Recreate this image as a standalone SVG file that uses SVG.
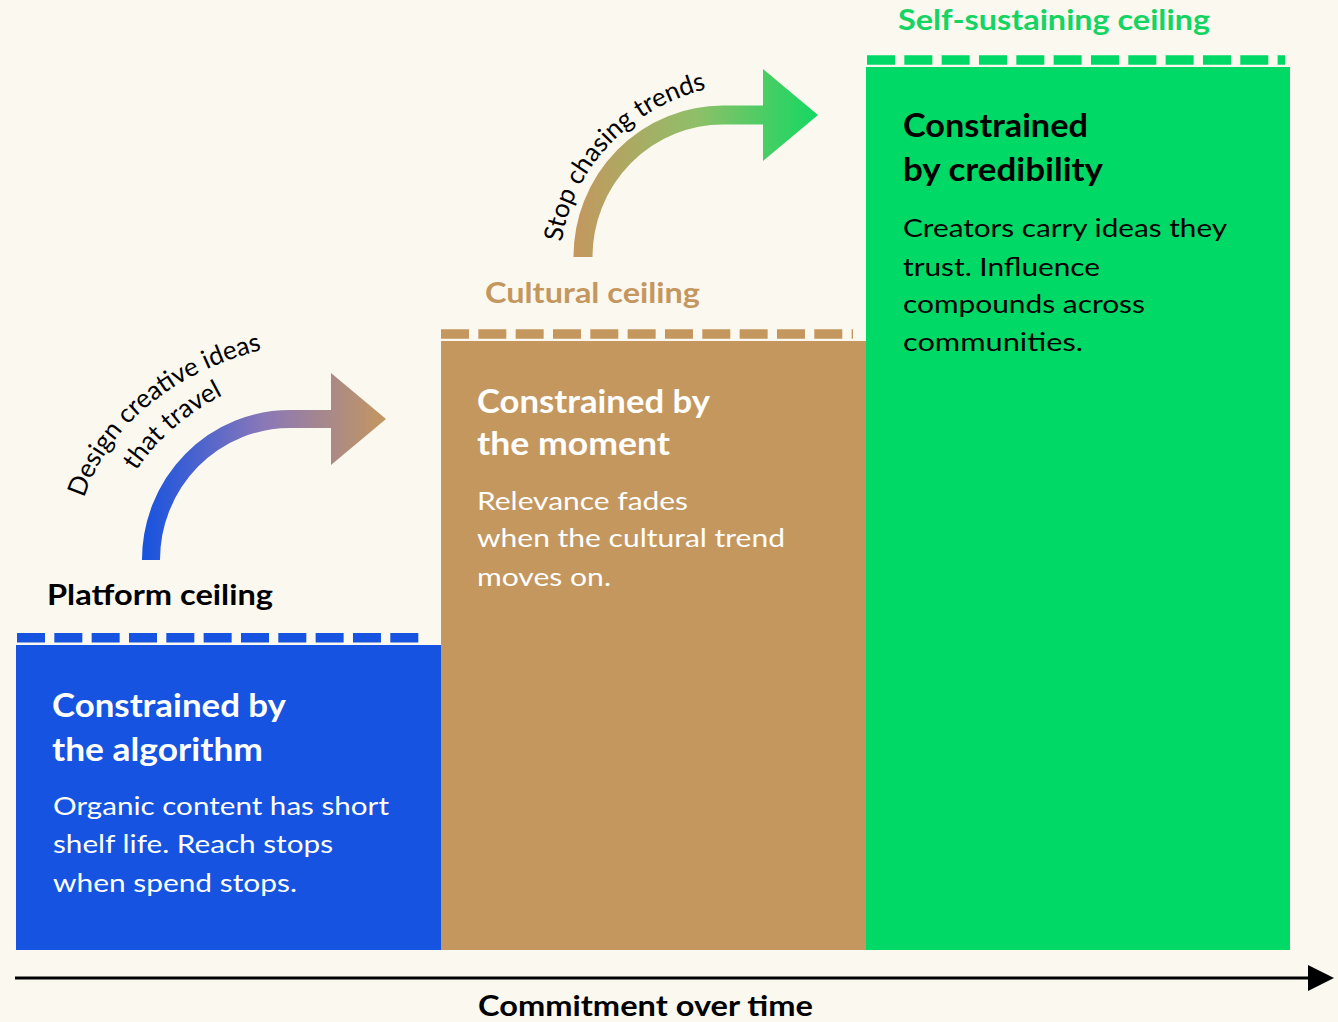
<svg xmlns="http://www.w3.org/2000/svg" width="1338" height="1022" viewBox="0 0 1338 1022">
  <style>
    .h { font-family: Lato, "Open Sans", "Liberation Sans", sans-serif; font-weight: 700; font-size: 33px; }
    .b { font-family: Lato, "Open Sans", "Liberation Sans", sans-serif; font-weight: 400; font-size: 25px; }
    .lbl { font-family: Lato, "Open Sans", "Liberation Sans", sans-serif; font-weight: 700; font-size: 28px; }
    .arc { font-family: Lato, "Open Sans", "Liberation Sans", sans-serif; font-weight: 400; font-size: 26px; fill: #000; }
    .w { fill: #ffffff; }
    .k { fill: #000000; }
    .dash { stroke-width: 9.5; stroke-dasharray: 28 9.33; fill: none; }
  </style>
  <defs>
    <linearGradient id="g1" gradientUnits="userSpaceOnUse" x1="142" y1="0" x2="386" y2="0">
      <stop offset="0" stop-color="#1652e0"/>
      <stop offset="0.5" stop-color="#8a78b8"/>
      <stop offset="1" stop-color="#c4975f"/>
    </linearGradient>
    <linearGradient id="g2" gradientUnits="userSpaceOnUse" x1="574" y1="0" x2="818" y2="0">
      <stop offset="0" stop-color="#c4975f"/>
      <stop offset="0.5" stop-color="#8fbf68"/>
      <stop offset="1" stop-color="#14d862"/>
    </linearGradient>
    <path id="p1" d="M84,498 C110,420 185,360 300,342"/>
    <path id="p2" d="M136,471 C160,434 200,402 252,382"/>
    <path id="p3" d="M562,242 C571,174 626,104 720,86"/>
  </defs>

  <rect x="0" y="0" width="1338" height="1022" fill="#fbf8ef"/>

  <g id="step-platform">
    <rect x="16" y="645" width="426" height="305" fill="#1553e0"/>
    <line class="dash" x1="17" y1="637.8" x2="419" y2="637.8" stroke="#1553e0"/>
    <text class="lbl k" x="47" y="605" textLength="226" lengthAdjust="spacingAndGlyphs">Platform ceiling</text>
    <text class="h w" x="52" y="717" textLength="234" lengthAdjust="spacingAndGlyphs">Constrained by</text>
    <text class="h w" x="52" y="761" textLength="211" lengthAdjust="spacingAndGlyphs">the algorithm</text>
    <text class="b w" x="53" y="815" textLength="336" lengthAdjust="spacingAndGlyphs">Organic content has short</text>
    <text class="b w" x="53" y="853" textLength="280" lengthAdjust="spacingAndGlyphs">shelf life. Reach stops</text>
    <text class="b w" x="53" y="892" textLength="244" lengthAdjust="spacingAndGlyphs">when spend stops.</text>
  </g>

  <g id="step-cultural">
    <rect x="441" y="341" width="425" height="609" fill="#c4975f"/>
    <line class="dash" x1="441" y1="334" x2="853" y2="334" stroke="#c4975f"/>
    <text class="lbl" x="485" y="303" fill="#c4975f" textLength="215" lengthAdjust="spacingAndGlyphs">Cultural ceiling</text>
    <text class="h w" x="477" y="413" textLength="233" lengthAdjust="spacingAndGlyphs">Constrained by</text>
    <text class="h w" x="477" y="455" textLength="193" lengthAdjust="spacingAndGlyphs">the moment</text>
    <text class="b w" x="477" y="510" textLength="211" lengthAdjust="spacingAndGlyphs">Relevance fades</text>
    <text class="b w" x="477" y="547" textLength="308" lengthAdjust="spacingAndGlyphs">when the cultural trend</text>
    <text class="b w" x="477" y="586" textLength="134" lengthAdjust="spacingAndGlyphs">moves on.</text>
  </g>

  <g id="step-self">
    <rect x="866" y="67" width="424" height="883" fill="#00d966"/>
    <line class="dash" x1="867" y1="60" x2="1285" y2="60" stroke="#00d966"/>
    <text class="lbl" x="898" y="30" fill="#14d462" textLength="312" lengthAdjust="spacingAndGlyphs">Self-sustaining ceiling</text>
    <text class="h k" x="903" y="137" textLength="185" lengthAdjust="spacingAndGlyphs">Constrained</text>
    <text class="h k" x="903" y="181" textLength="200" lengthAdjust="spacingAndGlyphs">by credibility</text>
    <text class="b k" x="903" y="237" textLength="324" lengthAdjust="spacingAndGlyphs">Creators carry ideas they</text>
    <text class="b k" x="903" y="276" textLength="197" lengthAdjust="spacingAndGlyphs">trust. Influence</text>
    <text class="b k" x="903" y="313" textLength="242" lengthAdjust="spacingAndGlyphs">compounds across</text>
    <text class="b k" x="903" y="351" textLength="180" lengthAdjust="spacingAndGlyphs">communities.</text>
  </g>

  <g id="connectors">
    <g id="arrow-design">
      <path d="M151,560 A139,141 0 0 1 290,419 L333,419" fill="none" stroke="url(#g1)" stroke-width="18"/>
      <polygon points="331,373 386,419 331,465" fill="url(#g1)"/>
      <text class="arc"><textPath href="#p1">Design creative ideas</textPath></text>
      <text class="arc"><textPath href="#p2">that travel</textPath></text>
    </g>
    <g id="arrow-stop">
      <path d="M583,257 A140,142 0 0 1 723,115 L765,115" fill="none" stroke="url(#g2)" stroke-width="19"/>
      <polygon points="763,69 818,115 763,161" fill="url(#g2)"/>
      <text class="arc"><textPath href="#p3">Stop chasing trends</textPath></text>
    </g>
    <g id="axis">
      <line x1="15" y1="978" x2="1310" y2="978" stroke="#000" stroke-width="3"/>
      <polygon points="1308,965 1334,978 1308,991" fill="#000"/>
      <text class="lbl k" x="478" y="1016" textLength="335" lengthAdjust="spacingAndGlyphs">Commitment over time</text>
    </g>
  </g>
</svg>
